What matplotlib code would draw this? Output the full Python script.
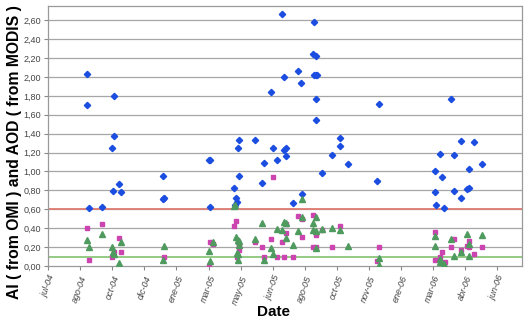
import numpy as np
import pandas as pd
import matplotlib
matplotlib.use('Agg')
import matplotlib.pyplot as plt
from matplotlib.ticker import FuncFormatter

plt.rcParams['font.family'] = ['Liberation Sans', 'DejaVu Sans']

# AI from OMI (blue diamonds)
ai_dates = ['2004-09-10', '2004-09-10', '2004-09-14', '2004-10-04', '2004-10-19', '2004-10-21',
            '2004-10-22', '2004-10-22', '2004-10-30', '2004-11-03', '2005-01-07', '2005-01-07',
            '2005-01-09', '2005-03-20', '2005-03-22', '2005-03-22', '2005-04-27', '2005-05-01',
            '2005-05-02', '2005-04-30', '2005-05-05', '2005-05-04', '2005-05-06', '2005-05-31',
            '2005-06-11', '2005-06-13', '2005-06-25', '2005-06-27', '2005-07-03', '2005-07-11',
            '2005-07-15', '2005-07-15', '2005-07-17', '2005-07-18', '2005-07-29', '2005-08-05',
            '2005-08-10', '2005-08-11', '2005-08-29', '2005-08-30', '2005-08-30', '2005-09-03',
            '2005-09-03', '2005-09-03', '2005-09-03', '2005-09-04', '2005-09-11', '2005-09-28',
            '2005-10-10', '2005-10-10', '2005-10-23', '2005-12-07', '2005-12-09', '2006-03-07',
            '2006-03-07', '2006-03-08', '2006-03-14', '2006-03-18', '2006-03-21', '2006-04-01',
            '2006-04-05', '2006-04-05', '2006-04-17', '2006-04-17', '2006-04-26', '2006-04-28',
            '2006-04-29', '2006-05-06', '2006-05-19']
ai_values = [2.03, 1.70, 0.61, 0.62, 1.25, 0.79,
             1.80, 1.38, 0.87, 0.78, 0.95, 0.71,
             0.72, 1.12, 1.12, 0.62, 0.83, 0.72,
             0.68, 0.64, 0.95, 1.25, 1.33, 1.33,
             0.88, 1.09, 1.84, 1.25, 1.12, 2.67,
             2.00, 1.23, 1.25, 1.16, 0.67, 2.06,
             1.94, 0.76, 2.24, 2.58, 2.02, 2.22,
             2.02, 1.77, 1.55, 2.02, 0.98, 1.17,
             1.35, 1.27, 1.08, 0.90, 1.71, 0.78,
             1.01, 0.64, 1.18, 0.94, 0.61, 1.77,
             1.17, 0.79, 1.32, 0.72, 0.81, 1.03,
             0.83, 1.31, 1.08]

# AOD from MODIS (magenta squares)
aod1_dates = ['2004-09-10', '2004-09-14', '2004-10-04', '2004-10-19', '2004-10-22', '2004-10-30',
              '2004-11-03', '2005-01-09', '2005-03-20', '2005-03-22', '2005-03-26', '2005-04-27',
              '2005-05-01', '2005-05-04', '2005-05-05', '2005-05-06', '2005-05-03', '2005-05-31',
              '2005-06-11', '2005-06-13', '2005-06-25', '2005-06-27', '2005-07-03', '2005-07-11',
              '2005-07-15', '2005-07-17', '2005-07-17', '2005-07-29', '2005-08-05', '2005-08-11',
              '2005-08-11', '2005-08-29', '2005-08-29', '2005-09-03', '2005-09-03', '2005-09-11',
              '2005-09-28', '2005-10-10', '2005-12-07', '2005-12-09', '2006-03-07', '2006-03-07',
              '2006-03-14', '2006-03-18', '2006-03-22', '2006-04-01', '2006-04-05', '2006-04-17',
              '2006-04-26', '2006-04-28', '2006-04-29', '2006-05-06', '2006-05-19']
aod1_values = [0.40, 0.06, 0.44, 0.095, 0.145, 0.30,
               0.15, 0.09, 0.00, 0.25, 0.23, 0.42,
               0.48, 0.25, 0.21, 0.17, 0.10, 0.25,
               0.20, 0.10, 0.29, 0.94, 0.09, 0.25,
               0.09, 0.44, 0.35, 0.09, 0.53, 0.50,
               0.31, 0.54, 0.20, 0.33, 0.20, 0.38,
               0.20, 0.42, 0.05, 0.20, 0.36, 0.06,
               0.095, 0.15, 0.04, 0.20, 0.29, 0.17,
               0.21, 0.26, 0.20, 0.13, 0.20]

# AOD from MODIS (green triangles)
aod2_dates = ['2004-09-10', '2004-09-14', '2004-10-04', '2004-10-19', '2004-10-21', '2004-10-23',
              '2004-10-30', '2004-11-03', '2005-01-07', '2005-01-09', '2005-03-20', '2005-03-22',
              '2005-03-26', '2005-04-27', '2005-04-29', '2005-05-01', '2005-05-04', '2005-05-05',
              '2005-05-03', '2005-05-04', '2005-05-04', '2005-05-06', '2005-05-31', '2005-06-11',
              '2005-06-13', '2005-06-25', '2005-06-27', '2005-07-03', '2005-07-11', '2005-07-15',
              '2005-07-18', '2005-07-17', '2005-07-29', '2005-08-05', '2005-08-11', '2005-08-11',
              '2005-08-29', '2005-08-29', '2005-09-03', '2005-09-03', '2005-09-03', '2005-09-11',
              '2005-09-28', '2005-10-10', '2005-10-23', '2005-12-09', '2005-12-09', '2006-03-07',
              '2006-03-07', '2006-03-15', '2006-03-15', '2006-03-21', '2006-04-01', '2006-04-05',
              '2006-04-17', '2006-04-26', '2006-04-28', '2006-04-29', '2006-05-19']
aod2_values = [0.28, 0.20, 0.34, 0.20, 0.15, 0.13,
               0.03, 0.25, 0.06, 0.21, 0.16, 0.05,
               0.25, 0.63, 0.64, 0.31, 0.27, 0.26,
               0.14, 0.13, 0.06, 0.22, 0.29, 0.46,
               0.06, 0.19, 0.13, 0.39, 0.38, 0.47,
               0.46, 0.30, 0.22, 0.37, 0.52, 0.71,
               0.38, 0.46, 0.52, 0.37, 0.19, 0.39,
               0.40, 0.38, 0.21, 0.08, 0.01, 0.32,
               0.21, 0.07, 0.04, 0.02, 0.29, 0.11,
               0.15, 0.34, 0.23, 0.11, 0.33]

# reference lines
ai_threshold = 0.60
aod_threshold = 0.09

# x axis: Excel date axis, major unit 50 days
axis_start = '2004-07-12'
axis_days = 738
tick_labels = ['jul-04', 'ago-04', 'oct-04', 'dic-04', 'ene-05', 'mar-05', 'may-05', 'jun-05',
               'ago-05', 'oct-05', 'nov-05', 'ene-06', 'mar-06', 'abr-06', 'jun-06']

fig = plt.figure(figsize=(5.3, 3.22), dpi=100)
ax = fig.add_axes([0.0906, 0.174, 0.894, 0.807])

grid_color = '#a6a6a6'
for v in np.arange(0.2, 2.61, 0.2):
    ax.axhline(v, color=grid_color, lw=0.9, zorder=0)

ax.axhline(ai_threshold, color='#e07b70', lw=1.3, zorder=1)
ax.axhline(aod_threshold, color='#8cc67c', lw=1.3, zorder=1)

ax.plot(pd.to_datetime(ai_dates), ai_values, linestyle='none', marker='D',
        ms=3.2, color='#1a4de0', mec='#1a4de0', zorder=3)
ax.plot(pd.to_datetime(aod1_dates), aod1_values, linestyle='none', marker='s',
        ms=3.4, color='#cc44b0', mec='#cc44b0', zorder=3)
ax.plot(pd.to_datetime(aod2_dates), aod2_values, linestyle='none', marker='^',
        ms=4.0, color='#4f9a5e', mec='#4f9a5e', zorder=3)

start = pd.Timestamp(axis_start)
ticks = pd.date_range(start, periods=len(tick_labels), freq='50D')
ax.set_xticks(ticks)
ax.set_xticklabels(tick_labels, rotation=70, ha='right', rotation_mode='anchor',
                   fontsize=6.5, color='#444444', style='italic')
ax.set_xlim(start, start + pd.Timedelta(days=axis_days))

ax.set_ylim(0, 2.75)
ax.set_yticks(np.arange(0, 2.61, 0.2))
ax.yaxis.set_major_formatter(FuncFormatter(lambda v, p: f'{v:.2f}'.replace('.', ',')))
ax.tick_params(axis='y', labelsize=6.5, labelcolor='#444444', length=3, color='#888888', pad=2)
ax.tick_params(axis='x', length=3, color='#888888', pad=3)

for s in ax.spines.values():
    s.set_color('#999999')
    s.set_linewidth(0.9)

ax.set_ylabel('AI ( from OMI ) and AOD ( from MODIS )', fontsize=11.3, fontweight='bold')
ax.yaxis.set_label_coords(-0.055, 0.44)
ax.set_xlabel('Date', fontsize=11, fontweight='bold')
ax.xaxis.set_label_coords(0.475, -0.15)

fig.savefig('out.png', dpi=100)
